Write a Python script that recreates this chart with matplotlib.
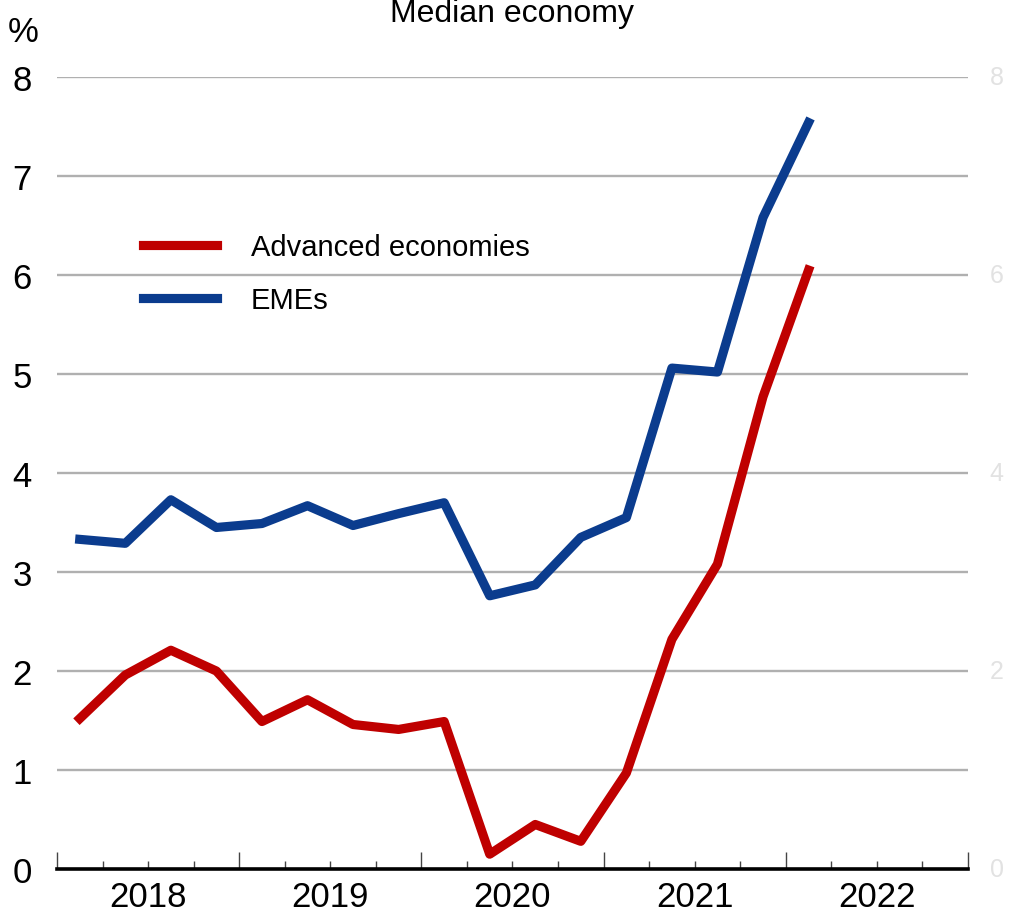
import matplotlib.pyplot as plt
from matplotlib.ticker import FixedLocator

plt.rcParams['font.family'] = ['Liberation Sans', 'DejaVu Sans']

quarters = ["2018Q1", "2018Q2", "2018Q3", "2018Q4",
            "2019Q1", "2019Q2", "2019Q3", "2019Q4",
            "2020Q1", "2020Q2", "2020Q3", "2020Q4",
            "2021Q1", "2021Q2", "2021Q3", "2021Q4",
            "2022Q1"]
advanced = [1.52, 1.96, 2.21, 2.00, 1.49, 1.71, 1.46, 1.41, 1.49,
            0.15, 0.45, 0.28, 0.97, 2.32, 3.08, 4.77, 6.05]
emes = [3.33, 3.29, 3.73, 3.45, 3.49, 3.67, 3.47, 3.59, 3.70,
        2.76, 2.87, 3.35, 3.55, 5.06, 5.02, 6.58, 7.54]
years = [2018, 2019, 2020, 2021, 2022]
y_ticks = [0, 1, 2, 3, 4, 5, 6, 7, 8]
ghost_ticks = [0, 2, 4, 6, 8]

red = "#bf0000"
blue = "#0b3c8e"


def quarter_mid(q):
    # centre of the quarter on a continuous year axis
    yr, qn = q.split("Q")
    return int(yr) + (int(qn) - 0.5) / 4


x = [quarter_mid(q) for q in quarters]

fig = plt.figure(figsize=(10.12, 9.2), dpi=100)
ax = fig.add_axes([0.0563, 0.0543, 0.9002, 0.8609])

for v in y_ticks[1:]:
    ax.axhline(v, color="#b0b0b0", lw=1.7, zorder=1)

ax.plot(x, advanced, color=red, lw=6.6, label="Advanced economies", zorder=3)
ax.plot(x, emes, color=blue, lw=6.6, label="EMEs", zorder=3)

ax.set_xlim(years[0], years[-1] + 1)
ax.set_ylim(0, 8)

for s in ["top", "right", "left"]:
    ax.spines[s].set_visible(False)
ax.spines["bottom"].set_linewidth(2.6)
ax.spines["bottom"].set_color("black")
ax.spines["bottom"].set_zorder(4)

ax.set_yticks(y_ticks)
ax.set_yticklabels([str(v) for v in y_ticks])
ax.tick_params(axis="y", length=0, pad=18, labelsize=25)

bounds = years + [years[-1] + 1]
ax.xaxis.set_major_locator(FixedLocator(bounds))
ax.xaxis.set_minor_locator(FixedLocator([y + q / 4 for y in bounds[:-1] for q in (1, 2, 3)]))
ax.tick_params(axis="x", which="major", direction="in", length=12.5, width=1.0,
               color="#444444", labelbottom=False)
ax.tick_params(axis="x", which="minor", direction="in", length=6, width=1.0,
               color="#444444")

sec = ax.secondary_xaxis("bottom")
sec.set_xticks([y + 0.5 for y in years])
sec.set_xticklabels([str(y) for y in years])
sec.tick_params(length=0, pad=8, labelsize=25)
sec.spines["bottom"].set_visible(False)

# faint ghost labels on the right edge
for v in ghost_ticks:
    yf = ax.transData.transform((0, v))[1] / fig.bbox.height
    fig.text(0.985, yf, str(v), ha="center", va="center",
             fontsize=18, color="#e2e2e2")

ax.text(-0.037, 1.058, "%", transform=ax.transAxes, ha="center", va="center",
        fontsize=25)
fig.text(0.506, 0.985, "Median economy", ha="center", va="center", fontsize=23)

ax.legend(loc="upper left", bbox_to_anchor=(143 / 1012, 1 - 234 / 920),
          bbox_transform=fig.transFigure, frameon=False, fontsize=21,
          handlelength=2.55, handletextpad=1.15, labelspacing=0.86,
          borderpad=0, borderaxespad=0)

fig.savefig("out.png", dpi=100)
